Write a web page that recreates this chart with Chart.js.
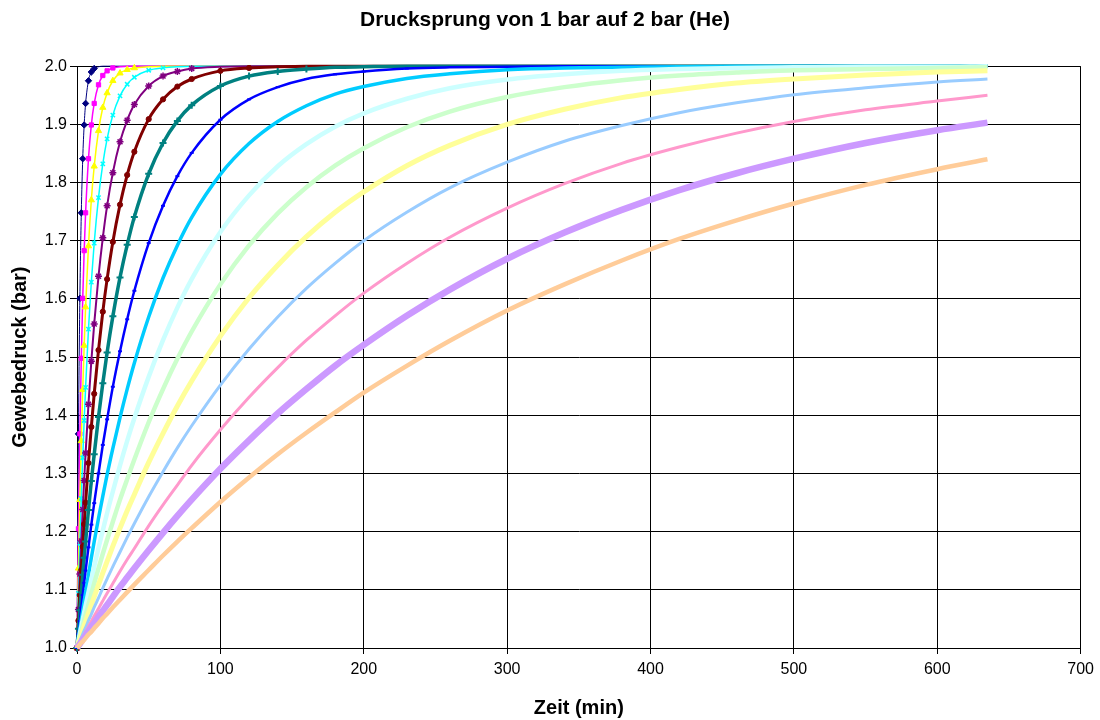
<!DOCTYPE html>
<html><head><meta charset="utf-8">
<script src="https://cdn.jsdelivr.net/npm/chart.js@4.4.1/dist/chart.umd.min.js"></script>
<style>html,body{margin:0;padding:0;background:#fff}canvas{display:block}</style>
</head><body>
<canvas id="c" width="1100" height="720"></canvas>
<script>
const chartTitle = "Drucksprung von 1 bar auf 2 bar (He)";
const xTitle = "Zeit (min)";
const yTitle = "Gewebedruck (bar)";

// Zeitpunkte (min)
const times = [0,1,2,3,4,5,6,8,10,12,15,18,21,25,30,35,40,50,60,70,80,100,120,140,160,180,200,230,260,300,340,380,420,460,500,550,600,635];

// Gewebedruck (bar) je Gewebe
const gewebe01 = [1.000,1.368,1.601,1.748,1.841,1.899,1.936,1.975,1.990,1.996,1.999,2.000,2.000,2.000,2.000,2.000,2.000,2.000,2.000,2.000,2.000,2.000,2.000,2.000,2.000,2.000,2.000,2.000,2.000,2.000,2.000,2.000,2.000,2.000,2.000,2.000,2.000,2.000];
const gewebe02 = [1.000,1.205,1.368,1.498,1.601,1.683,1.748,1.841,1.899,1.936,1.968,1.984,1.992,1.997,1.999,2.000,2.000,2.000,2.000,2.000,2.000,2.000,2.000,2.000,2.000,2.000,2.000,2.000,2.000,2.000,2.000,2.000,2.000,2.000,2.000,2.000,2.000,2.000];
const gewebe03 = [1.000,1.137,1.255,1.356,1.444,1.520,1.586,1.691,1.770,1.828,1.889,1.929,1.954,1.975,1.988,1.994,1.997,1.999,2.000,2.000,2.000,2.000,2.000,2.000,2.000,2.000,2.000,2.000,2.000,2.000,2.000,2.000,2.000,2.000,2.000,2.000,2.000,2.000];
const gewebe04 = [1.000,1.094,1.180,1.257,1.327,1.391,1.448,1.548,1.629,1.696,1.774,1.832,1.875,1.916,1.949,1.969,1.981,1.993,1.997,1.999,2.000,2.000,2.000,2.000,2.000,2.000,2.000,2.000,2.000,2.000,2.000,2.000,2.000,2.000,2.000,2.000,2.000,2.000];
const gewebe05 = [1.000,1.066,1.127,1.184,1.238,1.288,1.335,1.419,1.493,1.557,1.639,1.705,1.760,1.817,1.870,1.907,1.934,1.966,1.983,1.991,1.996,1.999,2.000,2.000,2.000,2.000,2.000,2.000,2.000,2.000,2.000,2.000,2.000,2.000,2.000,2.000,2.000,2.000];
const gewebe06 = [1.000,1.047,1.091,1.134,1.174,1.213,1.250,1.318,1.380,1.437,1.512,1.578,1.634,1.698,1.762,1.813,1.853,1.909,1.943,1.965,1.978,1.992,1.997,1.999,2.000,2.000,2.000,2.000,2.000,2.000,2.000,2.000,2.000,2.000,2.000,2.000,2.000,2.000];
const gewebe07 = [1.000,1.033,1.065,1.096,1.126,1.155,1.183,1.237,1.287,1.333,1.397,1.455,1.508,1.570,1.637,1.693,1.741,1.815,1.868,1.906,1.933,1.966,1.983,1.991,1.995,1.998,1.999,2.000,2.000,2.000,2.000,2.000,2.000,2.000,2.000,2.000,2.000,2.000];
const gewebe08 = [1.000,1.024,1.046,1.069,1.091,1.112,1.133,1.173,1.212,1.249,1.300,1.349,1.393,1.449,1.510,1.565,1.614,1.696,1.760,1.811,1.851,1.908,1.943,1.964,1.978,1.986,1.991,1.996,1.998,1.999,2.000,2.000,2.000,2.000,2.000,2.000,2.000,2.000];
const gewebe09 = [1.000,1.017,1.033,1.049,1.065,1.081,1.096,1.126,1.155,1.183,1.223,1.261,1.298,1.343,1.396,1.445,1.490,1.569,1.636,1.692,1.740,1.814,1.867,1.905,1.932,1.952,1.965,1.979,1.987,1.994,1.997,1.998,1.999,2.000,2.000,2.000,2.000,2.000];
const gewebe10 = [1.000,1.012,1.025,1.037,1.049,1.061,1.073,1.096,1.118,1.140,1.172,1.202,1.232,1.269,1.314,1.356,1.395,1.466,1.529,1.585,1.634,1.715,1.778,1.828,1.866,1.896,1.919,1.944,1.962,1.977,1.986,1.992,1.995,1.997,1.998,1.999,1.999,2.000];
const gewebe11 = [1.000,1.010,1.019,1.029,1.038,1.048,1.057,1.075,1.093,1.111,1.137,1.162,1.186,1.217,1.255,1.290,1.324,1.388,1.445,1.497,1.544,1.625,1.692,1.747,1.792,1.829,1.859,1.895,1.922,1.947,1.964,1.976,1.984,1.989,1.993,1.995,1.997,1.998];
const gewebe12 = [1.000,1.008,1.015,1.023,1.030,1.038,1.045,1.060,1.074,1.088,1.109,1.129,1.149,1.175,1.206,1.236,1.264,1.319,1.369,1.416,1.459,1.536,1.602,1.658,1.707,1.749,1.784,1.829,1.864,1.900,1.926,1.946,1.960,1.971,1.978,1.985,1.990,1.992];
const gewebe13 = [1.000,1.006,1.012,1.018,1.024,1.030,1.035,1.047,1.058,1.070,1.086,1.103,1.119,1.140,1.165,1.190,1.214,1.260,1.303,1.344,1.382,1.452,1.514,1.569,1.618,1.661,1.700,1.749,1.791,1.835,1.871,1.898,1.920,1.937,1.951,1.963,1.973,1.978];
const gewebe14 = [1.000,1.005,1.009,1.014,1.019,1.023,1.028,1.037,1.046,1.055,1.068,1.081,1.094,1.111,1.132,1.152,1.171,1.210,1.246,1.280,1.314,1.375,1.431,1.482,1.529,1.571,1.610,1.661,1.706,1.756,1.798,1.833,1.861,1.885,1.905,1.925,1.940,1.950];
const gewebe15 = [1.000,1.004,1.007,1.011,1.015,1.018,1.022,1.029,1.036,1.043,1.054,1.064,1.074,1.088,1.105,1.121,1.137,1.168,1.198,1.227,1.255,1.308,1.357,1.403,1.445,1.485,1.521,1.571,1.616,1.669,1.714,1.753,1.787,1.816,1.841,1.868,1.890,1.903];
const gewebe16 = [1.000,1.003,1.006,1.009,1.011,1.014,1.017,1.023,1.028,1.034,1.042,1.051,1.059,1.070,1.083,1.096,1.109,1.134,1.159,1.183,1.206,1.251,1.293,1.333,1.370,1.405,1.439,1.485,1.528,1.580,1.625,1.666,1.703,1.735,1.764,1.796,1.823,1.840];

const seriesValues = [gewebe01,gewebe02,gewebe03,gewebe04,gewebe05,gewebe06,gewebe07,gewebe08,
                      gewebe09,gewebe10,gewebe11,gewebe12,gewebe13,gewebe14,gewebe15,gewebe16];

// Darstellung (Farben, Linien, Marker)
const seriesStyles = [
  {c:'#000080', bw:1,   ps:'rectRot',  r:3.2, pbw:1},
  {c:'#FF00FF', bw:1.5, ps:'rect',     r:3,   pbw:1},
  {c:'#FFFF00', bw:1.5, ps:'triangle', r:3.6, pbw:1},
  {c:'#00FFFF', bw:1.5, ps:'crossRot', r:3,   pbw:1.5},
  {c:'#800080', bw:2,   ps:'star',     r:3.5, pbw:1.5},
  {c:'#800000', bw:3,   ps:'circle',   r:2.6, pbw:1},
  {c:'#008080', bw:3.5, ps:'cross',    r:3.5, pbw:2},
  {c:'#0000FF', bw:2.5, ps:'line',     r:2,   pbw:2},
  {c:'#00CCFF', bw:3.5},
  {c:'#CCFFFF', bw:4.5},
  {c:'#CCFFCC', bw:4.5},
  {c:'#FFFF99', bw:5},
  {c:'#99CCFF', bw:3},
  {c:'#FF99CC', bw:3},
  {c:'#CC99FF', bw:6.5},
  {c:'#FFCC99', bw:4.5}
];

const FONT = '"Liberation Sans", Arial, sans-serif';

const datasets = seriesValues.map((vals, i) => {
  const s = seriesStyles[i];
  return {
    label: 'Gewebe ' + (i + 1),
    data: times.map((t, k) => ({x: t, y: vals[k]})),
    borderColor: s.c,
    backgroundColor: s.c,
    borderWidth: s.bw,
    pointStyle: s.ps || 'circle',
    pointRadius: ctx => (s.r && ctx.parsed && ctx.parsed.y < 1.998) ? s.r : 0,
    pointBorderWidth: s.pbw || 1,
    pointBorderColor: s.c,
    pointBackgroundColor: s.c,
    pointHoverRadius: 0,
    cubicInterpolationMode: 'monotone',
    fill: false,
    clip: false,
    order: 16 - i
  };
});

new Chart(document.getElementById('c'), {
  type: 'line',
  data: {datasets},
  options: {
    responsive: false,
    animation: false,
    events: [],
    layout: {padding: {left: 8, right: 18, top: 0, bottom: 0}},
    plugins: {
      legend: {display: false},
      tooltip: {enabled: false},
      title: {
        display: true,
        text: chartTitle,
        color: '#000',
        font: {family: FONT, size: 21, weight: 'bold'},
        padding: {top: 8, bottom: 33}
      }
    },
    scales: {
      x: {
        type: 'linear',
        min: 0, max: 700,
        ticks: {stepSize: 100, color: '#000', font: {family: FONT, size: 16}, padding: 6, maxRotation: 0},
        grid: {color: '#000', lineWidth: 1, tickLength: 6, drawTicks: true},
        border: {color: '#000', width: 1},
        title: {display: true, text: xTitle, color: '#000', font: {family: FONT, size: 20, weight: 'bold'}, padding: {top: 0, bottom: 0}},
        afterFit: s => { s.height = 72; }
      },
      y: {
        type: 'linear',
        min: 1, max: 2,
        ticks: {stepSize: 0.1, color: '#000', font: {family: FONT, size: 16}, padding: 3,
                callback: v => Number(v).toFixed(1)},
        grid: {color: '#000', lineWidth: 1, tickLength: 7, drawTicks: true},
        border: {color: '#000', width: 1},
        title: {display: true, text: yTitle, color: '#000', font: {family: FONT, size: 20, weight: 'bold'}, padding: {top: 0, bottom: 0}},
        afterFit: s => { s.width = 69; }
      }
    }
  }
});
</script>
</body></html>
